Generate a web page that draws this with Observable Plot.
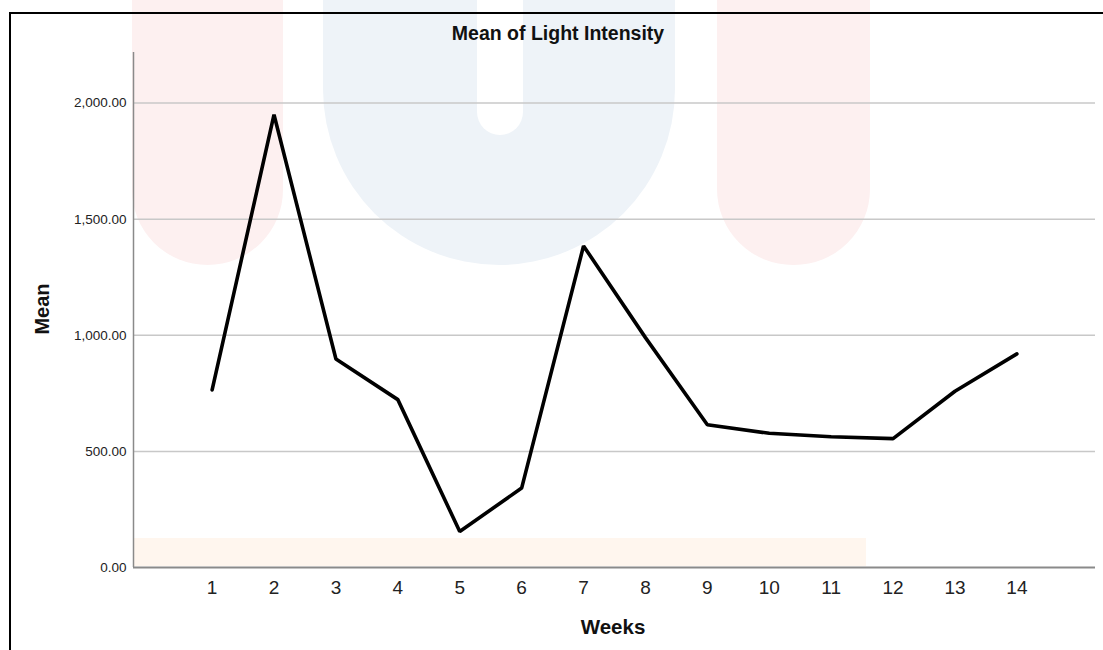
<!DOCTYPE html>
<html>
<head>
<meta charset="utf-8">
<script src="https://cdn.jsdelivr.net/npm/d3@7"></script>
<script src="https://cdn.jsdelivr.net/npm/@observablehq/plot@0.6"></script>
<style>
  html, body { margin: 0; padding: 0; background: #fff; }
  body { width: 1103px; height: 650px; position: relative; overflow: hidden; font-family: "Liberation Sans", Arial, sans-serif; }
  .wm { position: absolute; }
  #frame { position: absolute; left: 9px; top: 12px; width: 1200px; height: 700px; border-left: 2px solid #000; border-top: 2px solid #000; }
  #title { position: absolute; left: 558px; top: 22px; transform: translateX(-50%); font-size: 19.5px; font-weight: bold; color: #111; white-space: nowrap; }
  #ylab { position: absolute; left: 42px; top: 309px; transform: translate(-50%, -50%) rotate(-90deg); font-size: 20px; font-weight: bold; color: #111; white-space: nowrap; }
  #xlab { position: absolute; left: 613px; top: 615px; transform: translateX(-50%); font-size: 20.5px; font-weight: bold; color: #111; white-space: nowrap; }
  #chart { position: absolute; left: 0; top: 0; }
</style>
</head>
<body>
<!-- faint background watermark shapes -->
<div class="wm" style="left:132px;top:-80px;width:151px;height:345px;background:#fdf0f0;border-radius:0 0 76px 76px;"></div>
<div class="wm" style="left:323px;top:-80px;width:352px;height:345px;background:#eef3f8;border-radius:0 0 176px 176px;"></div>
<div class="wm" style="left:477px;top:-80px;width:46px;height:215px;background:#fff;border-radius:0 0 23px 23px;"></div>
<div class="wm" style="left:717px;top:-80px;width:153px;height:345px;background:#fdf0f0;border-radius:0 0 76px 76px;"></div>
<div class="wm" style="left:133px;top:538px;width:733px;height:28px;background:#fff6ee;"></div>

<div id="frame"></div>
<div id="chart"></div>
<div id="title">Mean of Light Intensity</div>
<div id="ylab">Mean</div>
<div id="xlab">Weeks</div>

<script>
const weeks = [1, 2, 3, 4, 5, 6, 7, 8, 9, 10, 11, 12, 13, 14];
const means = [765, 1950, 898, 723, 155, 342, 1385, 990, 615, 578, 563, 555, 759, 920];
const yTicks = [0, 500, 1000, 1500, 2000];

const data = weeks.map((w, i) => ({week: w, mean: means[i]}));
const xDomain = [-0.27, 15.27];
const yDomain = [0, 2218];

const chart = Plot.plot({
  width: 1103,
  height: 650,
  marginLeft: 133,
  marginRight: 8,
  marginTop: 52,
  marginBottom: 83,
  style: {background: "transparent", fontFamily: "'Liberation Sans', Arial, sans-serif", color: "#222"},
  x: {domain: xDomain, label: null},
  y: {domain: yDomain, label: null},
  marks: [
    Plot.gridY(yTicks.filter(d => d > 0), {stroke: "#c8c8c8", strokeOpacity: 1, strokeWidth: 1.5}),
    Plot.ruleX([xDomain[0]], {y1: 0, y2: yDomain[1], stroke: "#8a8a8a", strokeWidth: 1.5}),
    Plot.ruleY([0], {stroke: "#8a8a8a", strokeWidth: 2}),
    Plot.axisY(yTicks, {tickSize: 0, tickPadding: 7, fontSize: 13.5, tickFormat: d3.format(",.2f"), label: null}),
    Plot.axisX(weeks, {tickSize: 0, tickPadding: 13, fontSize: 19, tickFormat: d => String(d), label: null}),
    Plot.line(data, {x: "week", y: "mean", stroke: "#000", strokeWidth: 3.6, strokeLinejoin: "miter"})
  ]
});
document.getElementById("chart").appendChild(chart);
</script>
</body>
</html>
